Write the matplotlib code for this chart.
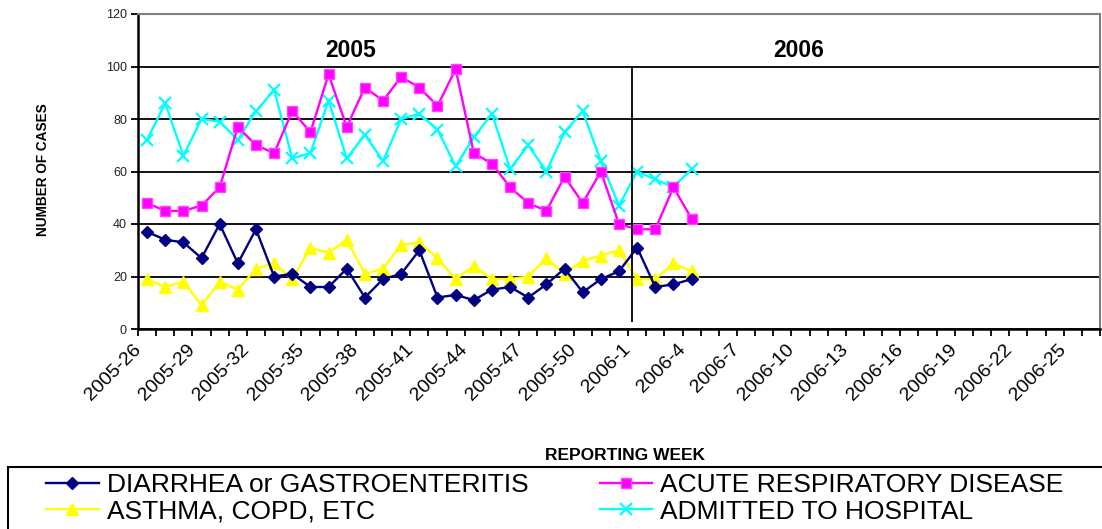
import matplotlib
matplotlib.use("Agg")
import matplotlib.pyplot as plt
import matplotlib.transforms as mtransforms
from matplotlib.patches import Rectangle

plt.rcParams['font.family'] = ['Liberation Sans', 'DejaVu Sans']

# reporting weeks: 2005-26 .. 2005-52, 2006-1 .. 2006-26
weeks = ['2005-%d' % w for w in range(26, 53)] + ['2006-%d' % w for w in range(1, 27)]

diarrhea = [37, 34, 33, 27, 40, 25, 38, 20, 21, 16, 16, 23, 12, 19, 21, 30,
            12, 13, 11, 15, 16, 12, 17, 23, 14, 19, 22, 31, 16, 17, 19]
respiratory = [48, 45, 45, 47, 54, 77, 70, 67, 83, 75, 97, 77, 92, 87, 96, 92,
               85, 99, 67, 63, 54, 48, 45, 58, 48, 60, 40, 38, 38, 54, 42]
asthma = [19, 16, 18, 9, 18, 15, 23, 25, 19, 31, 29, 34, 21, 23, 32, 33,
          27, 19, 24, 19, 19, 20, 27, 21, 26, 28, 30, 19, 19, 25, 22]
admitted = [72, 86, 66, 80, 79, 72, 83, 91, 65, 67, 87, 65, 74, 64, 80, 82,
            76, 62, 73, 82, 61, 70, 60, 75, 83, 64, 47, 60, 57, 54, 61]

labels = ['DIARRHEA or GASTROENTERITIS', 'ACUTE RESPIRATORY DISEASE',
          'ASTHMA, COPD, ETC', 'ADMITTED TO HOSPITAL']

fig = plt.figure(figsize=(11.02, 5.29), dpi=100)
ax = fig.add_axes([138 / 1102, 1 - 329 / 529, 962 / 1102, 315 / 529])

x = list(range(len(diarrhea)))
l1, = ax.plot(x, diarrhea, color='#000080', lw=1.7, marker='D', ms=6.5, zorder=5)
l2, = ax.plot(x, respiratory, color='#FF00FF', lw=1.7, marker='s', ms=7.5,
              mec='#FF44FF', zorder=4)
l3, = ax.plot(x, asthma, color='#FFFF00', lw=1.7, marker='^', ms=9, zorder=3)
l4, = ax.plot(x, admitted, color='#00FFFF', lw=1.7, marker='x', ms=9, mew=1.6, zorder=2)

# divider between the two years
year_break = 26.7
ax.vlines(year_break, 2.5, 100, color='black', lw=1.3, zorder=6)
ax.text(11.2, 106, '2005', fontsize=16.5, fontweight='bold', ha='center', va='center')
ax.text(35.9, 106, '2006', fontsize=16.5, fontweight='bold', ha='center', va='center')

ax.set_xlim(-0.5, len(weeks) - 0.5)
ax.set_ylim(0, 120)
ax.set_yticks(range(0, 121, 20))
ax.yaxis.grid(True, color='black', lw=1.3)
ax.set_axisbelow(True)
ax.tick_params(axis='y', length=5, width=1.3, pad=3, labelsize=9, labelcolor='#222222')

ax.set_xticks(range(0, len(weeks), 3))
ax.set_xticklabels(weeks[::3], rotation=45, ha='right', va='center',
                   rotation_mode='anchor', fontsize=14)
ax.set_xticks([i - 0.5 for i in range(len(weeks) + 1)], minor=True)
ax.tick_params(axis='x', which='major', length=0, pad=13)
ax.tick_params(axis='x', which='minor', length=5, width=1.3)
shift = mtransforms.ScaledTranslation(-9 / 100, 0, fig.dpi_scale_trans)
for lab in ax.get_xticklabels():
    lab.set_transform(lab.get_transform() + shift)

for side in ['top', 'right']:
    ax.spines[side].set_color('#808080')
    ax.spines[side].set_linewidth(1.5)
for side in ['left', 'bottom']:
    ax.spines[side].set_color('black')
    ax.spines[side].set_linewidth(1.8)

fig.text(43 / 1102, 1 - 170 / 529, 'NUMBER OF CASES', rotation=90, fontsize=9.8,
         fontweight='bold', ha='center', va='center')
fig.text(625 / 1102, 1 - 455 / 529, 'REPORTING WEEK', fontsize=12.5,
         fontweight='bold', ha='center', va='center')

# legend box runs off the figure edge
fig.patches.append(Rectangle((8 / 1102, -0.1), 1.2, 1 - 467 / 529 + 0.1,
                             transform=fig.transFigure, fill=False,
                             edgecolor='black', lw=1.5))
# row-wise order: matplotlib fills columns first
fig.legend([l1, l3, l2, l4], [labels[0], labels[2], labels[1], labels[3]],
           ncol=2, loc='upper left',
           bbox_to_anchor=(46 / 1102, 1 - 473 / 529), frameon=False,
           fontsize=19, handlelength=2.0, handletextpad=0.3, columnspacing=2.7,
           labelspacing=0.1, borderpad=0, borderaxespad=0)

fig.savefig('out.png', dpi=100)
